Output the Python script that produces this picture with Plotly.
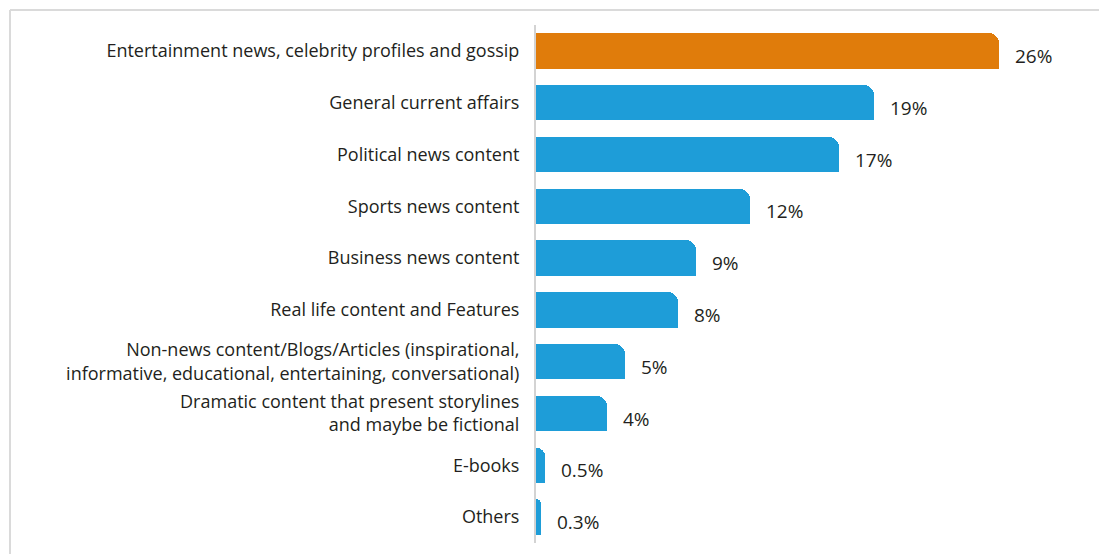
import plotly.graph_objects as go

# Share of respondents by type of content consumed
categories = [
    "Entertainment news, celebrity profiles and gossip",
    "General current affairs",
    "Political news content",
    "Sports news content",
    "Business news content",
    "Real life content and Features",
    "Non-news content/Blogs/Articles (inspirational,<br>informative, educational, entertaining, conversational)",
    "Dramatic content that present storylines<br>and maybe be fictional",
    "E-books",
    "Others",
]
values = [26, 19, 17, 12, 9, 8, 5, 4, 0.5, 0.3]
value_labels = ["26%", "19%", "17%", "12%", "9%", "8%", "5%", "4%", "0.5%", "0.3%"]

ORANGE = "#E07C0B"
BLUE = "#1E9DD8"
bar_colors = [ORANGE] + [BLUE] * (len(values) - 1)

BAR_W = 0.68
FONT = "Open Sans"
TEXT = "#231F20"

fig = go.Figure()

# Main bars, rounded at the far end
fig.add_trace(go.Bar(
    x=values, y=categories, orientation="h",
    marker=dict(color=bar_colors, line=dict(width=0), cornerradius=10),
    width=BAR_W, hoverinfo="skip", showlegend=False,
))
# Square off the lower end corner so only the upper one stays rounded
fig.add_trace(go.Bar(
    x=values, y=categories, orientation="h",
    marker=dict(color=bar_colors, line=dict(width=0)),
    width=BAR_W / 2, offset=0, hoverinfo="skip", showlegend=False,
))

for cat, v, lab in zip(categories, values, value_labels):
    fig.add_annotation(
        x=v, y=cat, text=lab, showarrow=False,
        xanchor="left", yanchor="middle", xshift=14, yshift=-5,
        font=dict(family=FONT, size=19, color=TEXT),
    )

# Light frame around the panel
frame = dict(type="line", xref="paper", yref="paper",
             line=dict(color="#DADADA", width=2), layer="below")
fig.add_shape(x0=-0.985, x1=1.06, y0=1.029, y1=1.029, **frame)
fig.add_shape(x0=-0.985, x1=-0.985, y0=1.029, y1=-0.03, **frame)

fig.update_layout(
    width=1099, height=554,
    margin=dict(l=536, r=29, t=25, b=11),
    paper_bgcolor="white", plot_bgcolor="white",
    barmode="overlay", bargap=0,
    font=dict(family=FONT, size=18, color=TEXT),
    xaxis=dict(range=[0, 30], visible=False, fixedrange=True),
    yaxis=dict(
        autorange="reversed", type="category",
        showline=True, linecolor="#D3D3D3", linewidth=2,
        showgrid=False, ticks="", ticklabelstandoff=11,
        tickfont=dict(family=FONT, size=18, color=TEXT),
        fixedrange=True,
    ),
)

fig.write_html("out.html")
